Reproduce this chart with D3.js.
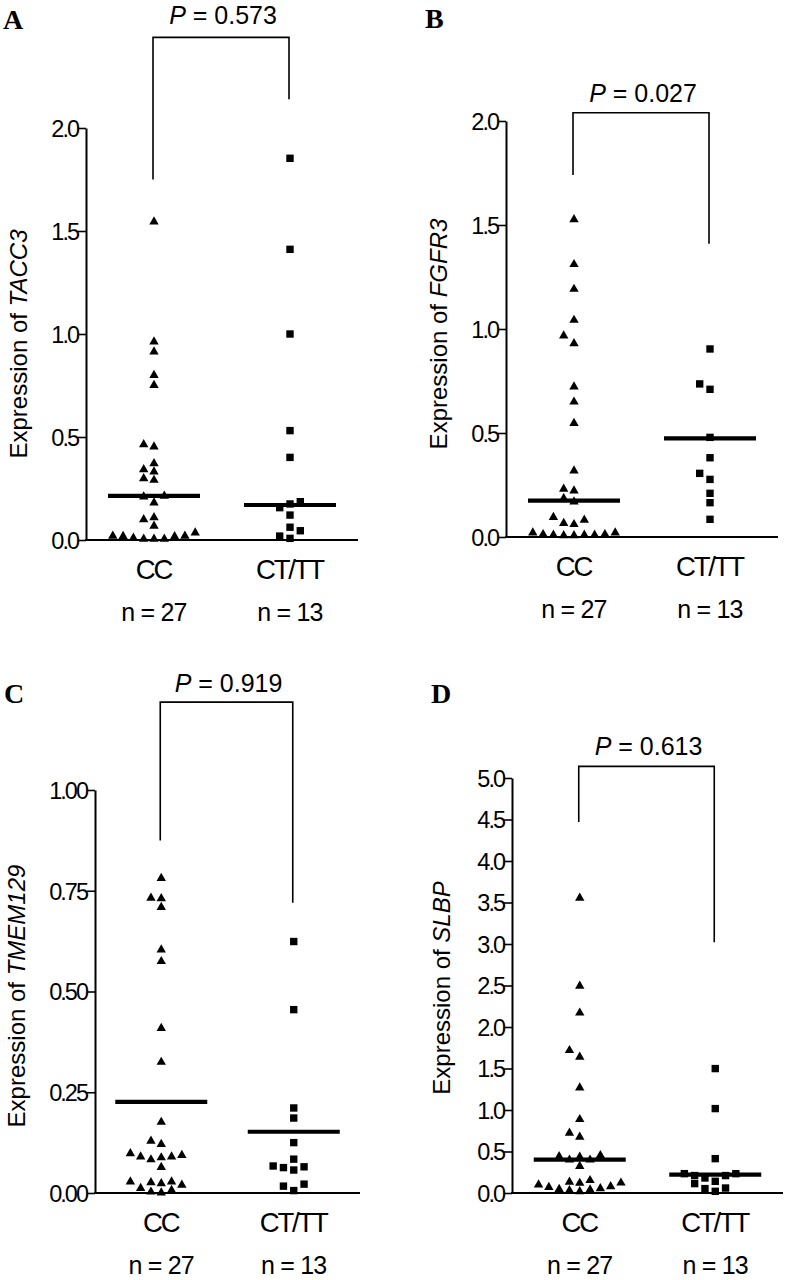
<!DOCTYPE html>
<html>
<head>
<meta charset="utf-8">
<script src="https://cdn.jsdelivr.net/npm/d3@7"></script>
<style>
  html, body { margin: 0; padding: 0; background: #fff; }
  svg { display: block; }
</style>
</head>
<body>
<svg id="chart" width="788" height="1280"></svg>
<script>
// ---------------- data ----------------
const categories = ["CC", "CT/TT"];
const groupSizes = ["n = 27", "n = 13"];

// A: TACC3
const tacc3CC = [1.545, 0.963, 0.914, 0.80, 0.752, 0.464, 0.453, 0.372, 0.343, 0.332, 0.299, 0.291, 0.214, 0.210, 0.181, 0.110, 0.100, 0.068, 0.036, 0.019, 0.017, 0.005, 0.005, 0.005, 0.010, 0.020, 0.020];
const tacc3CT = [1.853, 1.411, 1.0, 0.531, 0.401, 0.186, 0.175, 0.157, 0.121, 0.062, 0.045, 0.019, 0.008];
const tacc3Median = [0.214, 0.170];
const tacc3P = "0.573";
const tacc3Ticks = [0, 0.5, 1.0, 1.5, 2.0];

// B: FGFR3
const fgfr3CC = [1.527, 1.311, 1.192, 1.043, 0.968, 0.931, 0.723, 0.650, 0.547, 0.319, 0.231, 0.223, 0.186, 0.170, 0.095, 0.082, 0.066, 0.061, 0.021, 0.013, 0.010, 0.010, 0.010, 0.008, 0.008, 0.013, 0.021];
const fgfr3CT = [0.904, 0.736, 0.710, 0.479, 0.381, 0.306, 0.277, 0.210, 0.165, 0.085];
const fgfr3Median = [0.175, 0.474];
const fgfr3P = "0.027";
const fgfr3Ticks = [0, 0.5, 1.0, 1.5, 2.0];

// C: TMEM129
const tmem129CC = [0.781, 0.732, 0.731, 0.709, 0.604, 0.575, 0.409, 0.325, 0.176, 0.129, 0.121, 0.098, 0.094, 0.090, 0.090, 0.088, 0.083, 0.064, 0.028, 0.028, 0.026, 0.024, 0.020, 0.012, 0.007, 0.003, 0.001];
const tmem129CT = [0.624, 0.455, 0.211, 0.186, 0.125, 0.084, 0.067, 0.065, 0.063, 0.057, 0.022, 0.017, 0.006];
const tmem129Median = [0.226, 0.152];
const tmem129P = "0.919";
const tmem129Ticks = [0, 0.25, 0.50, 0.75, 1.00];

// D: SLBP
const slbpCC = [3.554, 2.494, 2.171, 1.719, 1.639, 1.270, 0.888, 0.723, 0.675, 0.454, 0.440, 0.434, 0.400, 0.400, 0.322, 0.153, 0.133, 0.123, 0.120, 0.100, 0.080, 0.070, 0.055, 0.045, 0.040, 0.030, 0.020];
const slbpCT = [1.499, 1.017, 0.414, 0.233, 0.233, 0.210, 0.210, 0.181, 0.141, 0.113, 0.060, 0.053, 0.020];
const slbpMedian = [0.402, 0.221];
const slbpP = "0.613";
const slbpTicks = [0, 0.5, 1.0, 1.5, 2.0, 2.5, 3.0, 3.5, 4.0, 4.5, 5.0];

// ---------------- layout ----------------
const panels = [
  { letter: "A", gene: "TACC3", cc: tacc3CC, ct: tacc3CT, med: tacc3Median, p: tacc3P, ticks: tacc3Ticks, fmt: ".1f",
    yMax: 2, y0: 540, yTop: 128, xl: 86, xr: 358, lx: 3, ly: 29, labX: 27, labY: 344, pY: 24, br: [2.44, 1.75, 2.14] },
  { letter: "B", gene: "FGFR3", cc: fgfr3CC, ct: fgfr3CT, med: fgfr3Median, p: fgfr3P, ticks: fgfr3Ticks, fmt: ".1f",
    yMax: 2, y0: 537, yTop: 121, xl: 506, xr: 778, lx: 425, ly: 28, labX: 447, labY: 334, pY: 102, br: [2.04, 1.74, 1.41] },
  { letter: "C", gene: "TMEM129", cc: tmem129CC, ct: tmem129CT, med: tmem129Median, p: tmem129P, ticks: tmem129Ticks, fmt: ".2f",
    yMax: 1, y0: 1193, yTop: 790, xl: 95, xr: 360, lx: 4, ly: 703, labX: 25, labY: 996, pY: 692, br: [1.218, 0.875, 0.72] },
  { letter: "D", gene: "SLBP", cc: slbpCC, ct: slbpCT, med: slbpMedian, p: slbpP, ticks: slbpTicks, fmt: ".1f",
    yMax: 5, y0: 1193, yTop: 778, xl: 512, xr: 783, lx: 431, ly: 703, labX: 450, labY: 988, pY: 755, br: [5.14, 4.47, 3.02] }
];

const SANS = "'Liberation Sans', Arial, Helvetica, sans-serif";
const SERIF = "'Liberation Serif', 'Times New Roman', Times, serif";
const svg = d3.select("#chart");
const SLOT = 10.3, THRESH = 8, MED_HALF = 46;

function swarm(values, y, cx) {
  const sorted = values.slice().sort((a, b) => a - b);
  const placed = [];
  sorted.forEach(v => {
    const py = y(v);
    for (let k = 0; k < 40; k++) {
      const slot = k === 0 ? 0 : (k % 2 === 1 ? -Math.ceil(k / 2) : Math.ceil(k / 2));
      const clash = placed.some(p => p.slot === slot && Math.abs(p.py - py) < THRESH);
      if (!clash) { placed.push({ v, py, slot, px: cx + slot * SLOT }); break; }
    }
  });
  return placed;
}

const triPath = "M0,-5.4 L4.7,2.8 L-4.7,2.8 Z";
const sqPath = "M-3.7,-3.7 H3.7 V3.7 H-3.7 Z";

panels.forEach(P => {
  const g = svg.append("g");
  const y = d3.scaleLinear().domain([0, P.yMax]).range([P.y0, P.yTop]);
  const x = d3.scalePoint().domain(categories).range([P.xl, P.xr]).padding(0.5);

  // y axis
  const ya = g.append("g").attr("transform", `translate(${P.xl},0)`)
    .call(d3.axisLeft(y).tickValues(P.ticks).tickFormat(d3.format(P.fmt)).tickSize(8).tickSizeOuter(0).tickPadding(1));
  ya.select(".domain").attr("stroke", "#000").attr("stroke-width", 2);
  ya.selectAll(".tick line").attr("stroke", "#000").attr("stroke-width", 1.6);
  ya.selectAll(".tick text")
    .style("font-family", SANS).style("font-size", "23.5px").style("letter-spacing", "-2px")
    .attr("fill", "#000").attr("dy", "0.36em").attr("x", -8);

  // x axis
  const xa = g.append("g").attr("transform", `translate(0,${P.y0})`)
    .call(d3.axisBottom(x).tickSize(0).tickSizeOuter(0));
  xa.select(".domain").attr("stroke", "#000").attr("stroke-width", 2)
    .attr("d", `M${P.xl - 1},0H${P.xr}`);
  xa.selectAll(".tick text")
    .style("font-family", SANS).style("font-size", "27.5px").style("letter-spacing", "-2.2px")
    .attr("fill", "#000").attr("y", 39).attr("dy", 0).attr("dx", -1);

  // n labels
  g.selectAll("text.n").data(categories).join("text").attr("class", "n")
    .attr("x", d => x(d)).attr("y", P.y0 + 81).attr("text-anchor", "middle")
    .style("font-family", SANS).style("font-size", "25px").style("letter-spacing", "-0.8px")
    .text((d, i) => groupSizes[i]);

  // points
  const groups = [P.cc, P.ct];
  groups.forEach((vals, gi) => {
    const pts = swarm(vals, y, x(categories[gi]));
    g.append("g").selectAll("path").data(pts).join("path")
      .attr("d", gi === 0 ? triPath : sqPath)
      .attr("transform", d => `translate(${d.px},${d.py})`)
      .attr("fill", "#000");
  });

  // medians
  g.append("g").selectAll("line").data(P.med).join("line")
    .attr("x1", (d, i) => x(categories[i]) - MED_HALF)
    .attr("x2", (d, i) => x(categories[i]) + MED_HALF)
    .attr("y1", d => y(d)).attr("y2", d => y(d))
    .attr("stroke", "#000").attr("stroke-width", 4.2);

  // bracket
  const [bt, bl, brr] = P.br;
  const x1 = x(categories[0]) - 1, x2 = x(categories[1]) - 1;
  g.append("path")
    .attr("d", `M${x1},${y(bl)}V${y(bt)}H${x2}V${y(brr)}`)
    .attr("fill", "none").attr("stroke", "#000").attr("stroke-width", 1.6);

  // P value
  const pt = g.append("text").attr("x", (x1 + x2) / 2 + 2).attr("y", P.pY)
    .attr("text-anchor", "middle")
    .style("font-family", SANS).style("font-size", "25px");
  pt.append("tspan").style("font-style", "italic").text("P");
  pt.append("tspan").text(" = " + P.p);

  // y label
  const yl = g.append("text")
    .attr("transform", `translate(${P.labX},${P.labY}) rotate(-90)`)
    .attr("text-anchor", "middle")
    .style("font-family", SANS).style("font-size", "24px");
  yl.append("tspan").text("Expression of ");
  yl.append("tspan").style("font-style", "italic").text(P.gene);

  // panel letter
  g.append("text").attr("x", P.lx).attr("y", P.ly)
    .style("font-family", SERIF).style("font-weight", "bold").style("font-size", "28px")
    .text(P.letter);
});
</script>
</body>
</html>
